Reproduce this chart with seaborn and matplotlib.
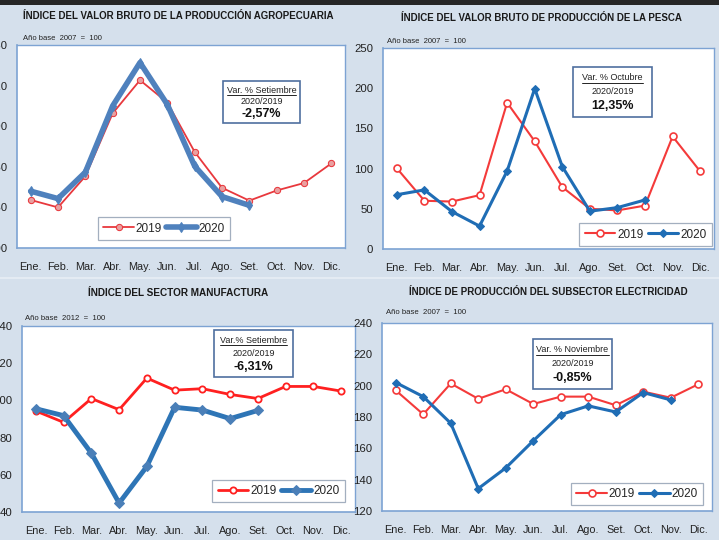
import matplotlib
matplotlib.use("Agg")
import matplotlib.pyplot as plt
import seaborn as sns
from matplotlib.lines import Line2D
from matplotlib.patches import Rectangle

W, H = 719, 540

months = ["Ene.", "Feb.", "Mar.", "Abr.", "May.", "Jun.", "Jul.", "Ago.", "Set.", "Oct.", "Nov.", "Dic."]

agro_2019 = [135.5, 130, 153, 199.5, 224, 207.5, 171, 144.5, 135, 142.5, 148, 162.5]
agro_2020 = [142, 136.5, 156, 205, 237, 206, 160.5, 138, 131.5]

pesca_2019 = [100.5, 60, 59, 67, 182, 134, 77, 50, 48, 54, 140, 96.5]
pesca_2020 = [67.5, 73.5, 46.5, 28.5, 97, 199.5, 102.5, 47, 51.5, 61]

manuf_2019 = [94.3, 88.2, 101, 95, 112, 105.5, 106.3, 103.2, 101, 107.5, 107.5, 105]
manuf_2020 = [95.5, 91.8, 71.6, 44.8, 64.5, 96.3, 94.8, 90.2, 94.6]

elec_2019 = [197, 181.7, 201.4, 191.6, 197.7, 188.3, 193, 193, 187.5, 196.2, 192.3, 200.9]
elec_2020 = [202, 193, 176, 134.3, 147.5, 164.8, 181.5, 187.1, 183.2, 195.6, 190.9]

titles = [
    "ÍNDICE DEL VALOR BRUTO DE LA PRODUCCIÓN AGROPECUARIA",
    "ÍNDICE DEL VALOR BRUTO DE PRODUCCIÓN DE LA PESCA",
    "ÍNDICE DEL SECTOR MANUFACTURA",
    "ÍNDICE DE PRODUCCIÓN DEL SUBSECTOR ELECTRICIDAD",
]
bases = ["Año base  2007  =  100", "Año base  2007  =  100", "Año base  2012  =  100", "Año base  2007  =  100"]
var_labels = ["Var. % Setiembre", "Var. % Octubre", "Var.% Setiembre", "Var. % Noviembre"]
var_values = ["-2,57%", "12,35%", "-6,31%", "-0,85%"]

BG = "#d5e0ec"
SPINE = "#7da3d3"
RED = "#ff2020"
BLUE = "#1f6db5"

sns.set_theme(style="white")
plt.rcParams["font.family"] = ["Liberation Sans", "DejaVu Sans"]

fig = plt.figure(figsize=(W / 100, H / 100), dpi=100, facecolor=BG)
renderer = fig.canvas.get_renderer()


def px_rect(x0, y0, x1, y1):
    return [x0 / W, 1 - y1 / H, (x1 - x0) / W, (y1 - y0) / H]


def fx(x):
    return x / W


def fy(y):
    return 1 - y / H


def fit_width(t, width):
    # scale a text so it spans about `width` pixels
    w = t.get_window_extent(renderer).width
    t.set_fontsize(t.get_fontsize() * width / w)


fig.patches.append(Rectangle((0, fy(5)), 1, 5 / H, transform=fig.transFigure,
                             facecolor="#262626", edgecolor="none", zorder=0))
fig.patches.append(Rectangle((0, fy(279)), 1, 2 / H, transform=fig.transFigure,
                             facecolor="#e4ebf3", edgecolor="none", zorder=0))

panels = [
    dict(rect=(17, 45, 345, 248), ylim=(100, 250), step=30, s19=agro_2019, s20=agro_2020,
         title=(29, 328, 16), base=(23, 103, 39), box=(223, 81, 300, 123), leg=(110, 217, 218, 240),
         style="agro"),
    dict(rect=(383, 48, 714, 249), ylim=(0, 250), step=50, s19=pesca_2019, s20=pesca_2020,
         title=(405, 678, 18), base=(387, 467, 42), box=(573, 67, 652, 117), leg=(589, 222, 702, 247),
         style="thin"),
    dict(rect=(22, 326, 355, 512), ylim=(40, 140), step=20, s19=manuf_2019, s20=manuf_2020,
         title=(91, 265, 293), base=(25, 106, 318), box=(214, 330, 293, 377), leg=(225, 479, 332, 503),
         style="thick"),
    dict(rect=(382, 323, 712, 511), ylim=(120, 240), step=20, s19=elec_2019, s20=elec_2020,
         title=(413, 683, 292), base=(386, 467, 312), box=(533, 339, 612, 389), leg=(582, 483, 692, 505),
         style="thin"),
]

for i, p in enumerate(panels):
    ax = fig.add_axes(px_rect(*p["rect"]))
    ax.set_facecolor("white")

    if p["style"] == "agro":
        kw19 = dict(color="#e8383d", linewidth=1.3, marker="o", markersize=4.5,
                    markerfacecolor="#e9a0a0", markeredgecolor="#e8383d")
        kw20 = dict(color="#4f81bd", linewidth=4, marker="d", markersize=5,
                    markerfacecolor="#4f81bd", markeredgecolor="#4f81bd")
    elif p["style"] == "thick":
        kw19 = dict(color=RED, linewidth=2, marker="o", markersize=4.5,
                    markerfacecolor="white", markeredgecolor=RED, markeredgewidth=1.3)
        kw20 = dict(color="#2e75b6", linewidth=3.5, marker="D", markersize=5,
                    markerfacecolor="#4a7fb8", markeredgecolor="#4a7fb8")
    else:
        kw19 = dict(color="#f43a3a", linewidth=1.5, marker="o", markersize=5,
                    markerfacecolor="white", markeredgecolor="#f43a3a", markeredgewidth=1.2)
        kw20 = dict(color=BLUE, linewidth=2.2, marker="D", markersize=4.5,
                    markerfacecolor=BLUE, markeredgecolor=BLUE)

    x19 = list(range(len(p["s19"])))
    x20 = list(range(len(p["s20"])))
    sns.lineplot(x=x19, y=p["s19"], ax=ax, label="2019", **kw19)
    sns.lineplot(x=x20, y=p["s20"], ax=ax, label="2020", **kw20)

    lo, hi = p["ylim"]
    ax.set_xlim(-0.5, 11.5)
    ax.set_ylim(lo, hi)
    ax.set_yticks(range(lo, hi + 1, p["step"]))
    ax.set_xticks([k - 0.5 for k in range(13)])
    ax.set_xticklabels([])
    ax.set_xticks(range(12), minor=True)
    ax.set_xticklabels(months, minor=True)
    ax.tick_params(axis="x", which="major", direction="out", length=4, color=SPINE, width=1)
    ax.tick_params(axis="x", which="minor", length=0, pad=10, labelsize=7.8, labelcolor="#222222")
    ax.tick_params(axis="y", direction="out", length=4, color=SPINE, width=1, pad=3,
                   labelsize=8.2, labelcolor="#222222")
    ax.set_xlabel("")
    ax.set_ylabel("")
    for side, sp in ax.spines.items():
        sp.set_visible(True)
        sp.set_color(SPINE)
        sp.set_linewidth(1.2 if side in ("left", "bottom") else 1.0)

    # legend
    lx0, ly0, lx1, ly1 = p["leg"]
    ax0, ay0, ax1, ay1 = p["rect"]
    bx = ((lx0 + lx1) / 2 - ax0) / (ax1 - ax0)
    by = (ay1 - (ly0 + ly1) / 2) / (ay1 - ay0)
    leg = ax.legend(loc="center", bbox_to_anchor=(bx, by), ncol=2, frameon=True, fancybox=False,
                    fontsize=8.5, handlelength=2.6, handletextpad=0.15, columnspacing=0.35,
                    borderpad=0.45, borderaxespad=0)
    leg.get_frame().set_edgecolor("#8c9bb0")
    leg.get_frame().set_linewidth(0.9)

    # variation box
    x0, y0, x1, y1 = p["box"]
    fig.patches.append(Rectangle((fx(x0), fy(y1)), (x1 - x0) / W, (y1 - y0) / H,
                                 transform=fig.transFigure, facecolor="white",
                                 edgecolor="#4f6f9f", linewidth=1.2, zorder=5))
    cx = (x0 + x1) / 2
    hgt = y1 - y0
    ly = y0 + hgt * 0.22
    t1 = fig.text(fx(cx), fy(ly), var_labels[i], ha="center", va="center",
                  fontsize=6.5, color="#222222", zorder=6)
    bb = t1.get_window_extent(renderer)
    fig.lines.append(Line2D([bb.x0 / W, bb.x1 / W], [fy(ly + 5)] * 2,
                            transform=fig.transFigure, color="#222222", linewidth=0.7, zorder=6))
    fig.text(fx(cx), fy(y0 + hgt * 0.5), "2020/2019", ha="center", va="center",
             fontsize=6.5, color="#222222", zorder=6)
    fig.text(fx(cx), fy(y0 + hgt * 0.78), var_values[i], ha="center", va="center",
             fontsize=9, fontweight="bold", color="#111111", zorder=6)

    # titles
    tx0, tx1, ty = p["title"]
    tt = fig.text(fx((tx0 + tx1) / 2), fy(ty), titles[i], ha="center", va="center",
                  fontsize=9, fontweight="bold", color="#1a1a1a")
    fit_width(tt, (tx1 - tx0) * 1.04)
    bx0, bx1, byy = p["base"]
    bt = fig.text(fx(bx0), fy(byy), bases[i], ha="left", va="center",
                  fontsize=7, color="#222222")
    fit_width(bt, bx1 - bx0)

fig.savefig("out.png", dpi=100, facecolor=BG)
plt.close(fig)
